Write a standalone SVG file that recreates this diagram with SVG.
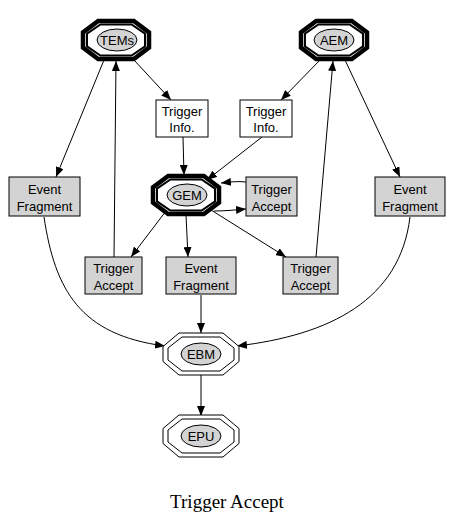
<svg xmlns="http://www.w3.org/2000/svg" xmlns:xlink="http://www.w3.org/1999/xlink" width="452" height="525" viewBox="0 0 452 525">
<style>
.t{font-family:"Liberation Sans",Arial,sans-serif;font-size:13px;text-anchor:middle;fill:#000}
.box{fill:#fff;stroke:#000;stroke-width:1}
.gbox{fill:#d3d3d3;stroke:#000;stroke-width:1}
.ell{fill:#d3d3d3;stroke:#000;stroke-width:1}
.oo{fill:#fff;stroke:#000;stroke-width:4.5}
.oi{fill:none;stroke:#000;stroke-width:2}
.do{fill:#fff;stroke:#000;stroke-width:1}
.di{fill:none;stroke:#000;stroke-width:1}
.e{fill:none;stroke:#000;stroke-width:1;marker-end:url(#ah)}
</style>
<defs>
<marker id="ah" viewBox="0 0 10 8" refX="10" refY="4" markerWidth="10" markerHeight="8" markerUnits="userSpaceOnUse" orient="auto">
<path d="M0,0 L10,4 L0,8 z" fill="#000"/>
</marker>
<polygon id="octO" points="-33,-7.6 -17.8,-19 17.8,-19 33,-7.6 33,7.6 17.8,19 -17.8,19 -33,7.6"/>
<polygon id="octI" points="-29,-6.4 -15.6,-15.5 15.6,-15.5 29,-6.4 29,6.4 15.6,15.5 -15.6,15.5 -29,6.4"/>
<polygon id="dblO" points="-38,-7.5 -22,-21 22,-21 38,-7.5 38,7.5 22,21 -22,21 -38,7.5"/>
<polygon id="dblI" points="-33,-6 -19,-17 19,-17 33,-6 33,6 19,17 -19,17 -33,6"/>
</defs>

<g id="connectors">
<line class="e" x1="134" y1="60" x2="171" y2="100"/>
<line class="e" x1="104" y1="60" x2="56" y2="177"/>
<line class="e" x1="114" y1="257" x2="116" y2="61"/>
<line class="e" x1="322" y1="58" x2="281" y2="100"/>
<line class="e" x1="345" y1="60" x2="400" y2="177"/>
<line class="e" x1="316" y1="257" x2="333" y2="61"/>
<line class="e" x1="183" y1="137" x2="184" y2="175"/>
<line class="e" x1="262" y1="137" x2="207" y2="180"/>
<path class="e" d="M246,182 C238,181 230,182 221,183"/>
<path class="e" d="M214,211 C225,211 235,210 246,209"/>
<line class="e" x1="166" y1="211" x2="131" y2="257"/>
<line class="e" x1="186" y1="215" x2="188" y2="257"/>
<line class="e" x1="211" y1="210" x2="286" y2="257"/>
<path class="e" d="M44,217 C55,290 80,335 165,346"/>
<line class="e" x1="201" y1="295" x2="201" y2="333"/>
<path class="e" d="M410,217 C400,300 330,335 237,346"/>
<line class="e" x1="201" y1="375" x2="201" y2="416"/>
</g>

<g id="TEMs" transform="translate(116,40)">
<use xlink:href="#octO" class="oo"/>
<use xlink:href="#octI" class="oi"/>
<ellipse class="ell" cx="1" cy="0" rx="20" ry="11"/>
<text class="t" x="1" y="5">TEMs</text>
</g>
<g id="AEM" transform="translate(334,40)">
<use xlink:href="#octO" class="oo"/>
<use xlink:href="#octI" class="oi"/>
<ellipse class="ell" cx="0" cy="0" rx="20" ry="11"/>
<text class="t" x="0" y="5">AEM</text>
</g>
<g id="GEM" transform="translate(186,195)">
<use xlink:href="#octO" class="oo"/>
<use xlink:href="#octI" class="oi"/>
<ellipse class="ell" cx="1" cy="0" rx="20" ry="11"/>
<text class="t" x="1" y="5">GEM</text>
</g>

<g id="TriggerInfoL">
<rect class="box" x="156" y="100" width="52" height="37"/>
<text class="t" x="182" y="116">Trigger</text>
<text class="t" x="182" y="132">Info.</text>
</g>
<g id="TriggerInfoR">
<rect class="box" x="240" y="100" width="52" height="37"/>
<text class="t" x="266" y="116">Trigger</text>
<text class="t" x="266" y="132">Info.</text>
</g>

<g id="EventFragmentL">
<rect class="gbox" x="9" y="177" width="71" height="39"/>
<text class="t" x="44.5" y="194">Event</text>
<text class="t" x="44.5" y="211">Fragment</text>
</g>
<g id="EventFragmentR">
<rect class="gbox" x="375" y="177" width="70" height="39"/>
<text class="t" x="410" y="194">Event</text>
<text class="t" x="410" y="211">Fragment</text>
</g>
<g id="TriggerAcceptG">
<rect class="gbox" x="246" y="177" width="51" height="39"/>
<text class="t" x="271.5" y="194">Trigger</text>
<text class="t" x="271.5" y="211">Accept</text>
</g>

<g id="TriggerAcceptL">
<rect class="gbox" x="85" y="257" width="57" height="37"/>
<text class="t" x="113.5" y="273">Trigger</text>
<text class="t" x="113.5" y="290">Accept</text>
</g>
<g id="EventFragmentM">
<rect class="gbox" x="166" y="257" width="70" height="37"/>
<text class="t" x="201" y="273">Event</text>
<text class="t" x="201" y="290">Fragment</text>
</g>
<g id="TriggerAcceptR">
<rect class="gbox" x="283" y="257" width="55" height="37"/>
<text class="t" x="310.5" y="273">Trigger</text>
<text class="t" x="310.5" y="290">Accept</text>
</g>

<g id="EBM" transform="translate(201,354)">
<use xlink:href="#dblO" class="do"/>
<use xlink:href="#dblI" class="di"/>
<ellipse class="ell" cx="0" cy="0" rx="20" ry="11"/>
<text class="t" x="0" y="5">EBM</text>
</g>
<g id="EPU" transform="translate(201,436)">
<use xlink:href="#dblO" class="do"/>
<use xlink:href="#dblI" class="di"/>
<ellipse class="ell" cx="0" cy="0" rx="20" ry="11"/>
<text class="t" x="0" y="5">EPU</text>
</g>

<text x="227" y="508" style="font-family:'Liberation Serif','Times New Roman',serif;font-size:19px;text-anchor:middle">Trigger Accept</text>
</svg>
